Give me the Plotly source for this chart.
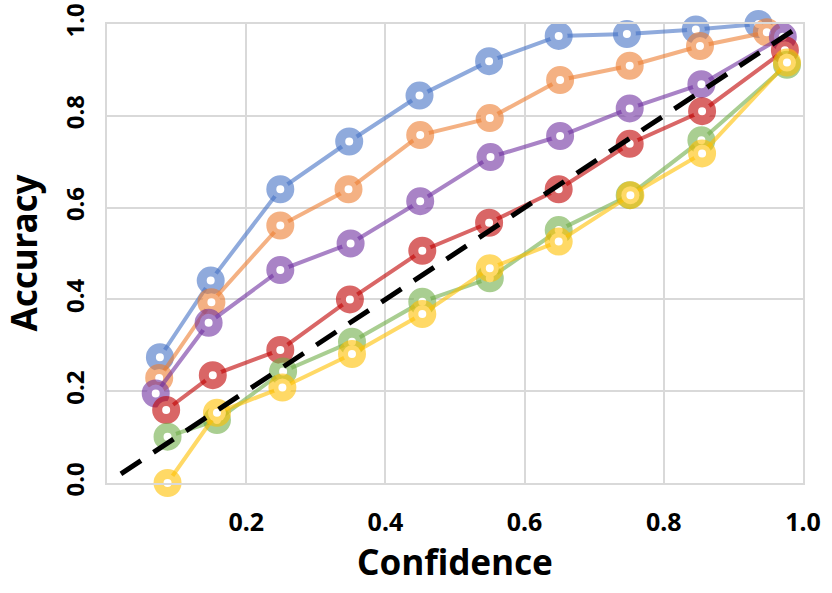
import plotly.graph_objects as go

# ---- data ----
blue_x = [0.076, 0.149, 0.249, 0.348, 0.449, 0.549, 0.649, 0.747, 0.846, 0.936]
blue_y = [0.274, 0.441, 0.640, 0.744, 0.844, 0.919, 0.974, 0.978, 0.988, 1.000]
orange_x = [0.075, 0.150, 0.249, 0.347, 0.450, 0.550, 0.651, 0.751, 0.852, 0.948]
orange_y = [0.229, 0.394, 0.561, 0.640, 0.758, 0.795, 0.878, 0.909, 0.952, 0.982]
purple_x = [0.070, 0.146, 0.249, 0.350, 0.450, 0.551, 0.651, 0.751, 0.854, 0.971]
purple_y = [0.195, 0.349, 0.464, 0.522, 0.614, 0.710, 0.756, 0.816, 0.869, 0.972]
red_x = [0.085, 0.152, 0.249, 0.349, 0.453, 0.549, 0.649, 0.751, 0.855, 0.974]
red_y = [0.159, 0.235, 0.290, 0.400, 0.506, 0.567, 0.640, 0.739, 0.810, 0.943]
green_x = [0.087, 0.158, 0.253, 0.352, 0.453, 0.550, 0.649, 0.751, 0.854, 0.977]
green_y = [0.101, 0.137, 0.243, 0.308, 0.395, 0.446, 0.551, 0.627, 0.747, 0.911]
yellow_x = [0.087, 0.158, 0.252, 0.352, 0.453, 0.550, 0.649, 0.752, 0.855, 0.977]
yellow_y = [0.000, 0.153, 0.208, 0.281, 0.368, 0.468, 0.526, 0.627, 0.718, 0.916]

diag_x = [0.02, 1.005]
diag_y = [0.02, 1.005]

x_ticks = [0.0, 0.2, 0.4, 0.6, 0.8, 1.0]
x_ticktext = ["", "0.2", "0.4", "0.6", "0.8", "1.0"]
y_ticks = [0.0, 0.2, 0.4, 0.6, 0.8, 1.0]
y_ticktext = ["0.0", "0.2", "0.4", "0.6", "0.8", "1.0"]

x_title = "Confidence"
y_title = "Accuracy"

series = [
    (blue_x, blue_y, "68,114,196"),
    (orange_x, orange_y, "237,125,49"),
    (purple_x, purple_y, "112,48,160"),
    (red_x, red_y, "192,0,0"),
    (green_x, green_y, "112,173,71"),
    (yellow_x, yellow_y, "255,192,0"),
]

fig = go.Figure()
for xs, ys, rgb in series:
    col = f"rgba({rgb},0.6)"
    fig.add_trace(go.Scatter(
        x=xs, y=ys, mode="lines+markers",
        line=dict(color=col, width=4),
        marker=dict(size=18, color="white", line=dict(color=col, width=10)),
        cliponaxis=False, showlegend=False,
    ))

fig.add_trace(go.Scatter(
    x=diag_x, y=diag_y, mode="lines",
    line=dict(color="black", width=5, dash="24px,15px"),
    showlegend=False, cliponaxis=False,
))

font_family = "Noto Sans"
fig.update_layout(
    width=832, height=593,
    margin=dict(l=107, r=29, t=24, b=110),
    plot_bgcolor="white", paper_bgcolor="white",
    font=dict(family=font_family, color="black"),
)
fig.update_xaxes(
    range=[0, 1], tickvals=x_ticks, ticktext=x_ticktext, automargin=False,
    showgrid=True, gridcolor="#D9D9D9", gridwidth=2,
    showline=True, linecolor="#D9D9D9", linewidth=2, mirror=True,
    zeroline=False, ticklabeloverflow="allow",
    ticks="outside", ticklen=16, tickcolor="rgba(0,0,0,0)",
    tickfont=dict(family=font_family, size=25, weight="bold", color="black"),
    title=dict(text=x_title, font=dict(family=font_family, size=35, weight="bold", color="black"), standoff=13),
)
fig.update_yaxes(
    range=[0, 1], tickvals=y_ticks, ticktext=y_ticktext, automargin=False,
    showgrid=True, gridcolor="#D9D9D9", gridwidth=2,
    showline=True, linecolor="#D9D9D9", linewidth=2, mirror=True,
    zeroline=False, tickangle=-90, ticklabeloverflow="allow",
    ticks="outside", ticklen=11, tickcolor="rgba(0,0,0,0)",
    tickfont=dict(family=font_family, size=24, weight="bold", color="black"),
)
fig.add_annotation(
    text=y_title, xref="paper", yref="paper", x=0, y=0.5,
    xanchor="center", yanchor="middle", xshift=-84, textangle=-90,
    showarrow=False,
    font=dict(family=font_family, size=35, weight="bold", color="black"),
)

# remove the browser's default 8px body margin so the figure fills the window
fig.write_html("out.html", config={"displayModeBar": False},
               post_script="document.body.style.margin='0px';")
